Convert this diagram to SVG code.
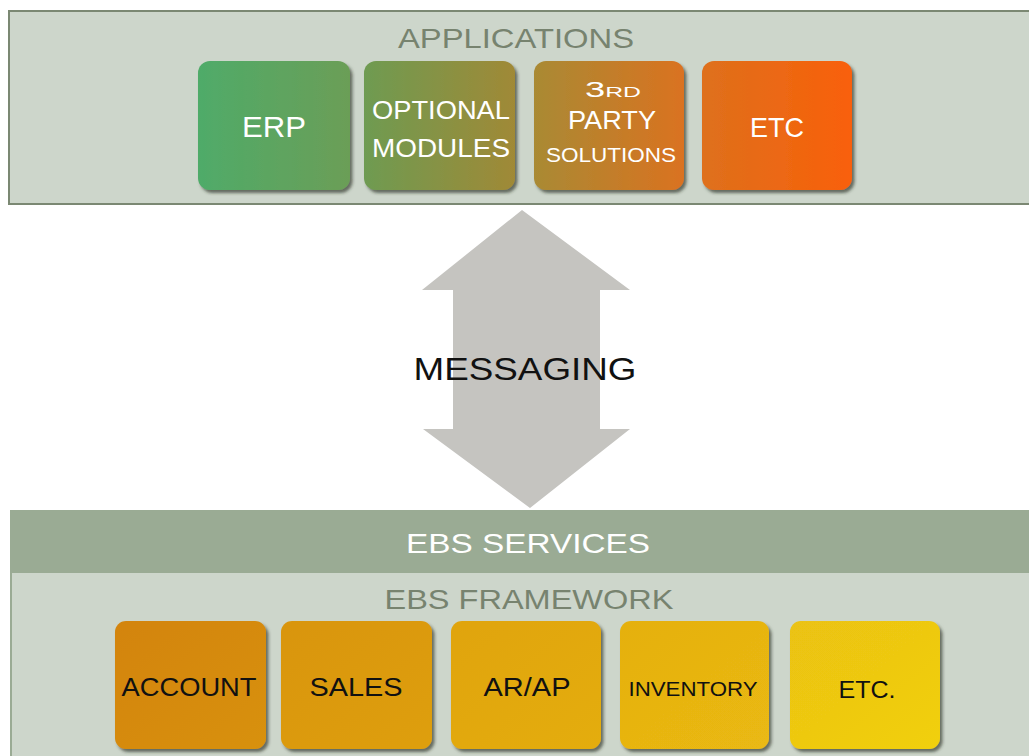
<svg xmlns="http://www.w3.org/2000/svg" width="1029" height="756" viewBox="0 0 1029 756">
<defs>
<style>
text{font-family:"Liberation Sans","DejaVu Sans",sans-serif;text-anchor:middle}
.hdr{font-size:28px;fill:#77836f}
.wt{fill:#ffffff}
.bk{fill:#111111}
.box{filter:url(#sh)}
</style>
<filter id="sh" x="-10%" y="-10%" width="125%" height="125%">
<feDropShadow dx="2.5" dy="3" stdDeviation="1.6" flood-color="#2a2e28" flood-opacity="0.65"/>
</filter>
<linearGradient id="gErp" x1="0" x2="1" y1="0" y2="0"><stop offset="0" stop-color="#4fab69"/><stop offset="1" stop-color="#6b9e57"/></linearGradient>
<linearGradient id="gOpt" x1="0" x2="1" y1="0" y2="0"><stop offset="0" stop-color="#6e9b52"/><stop offset="1" stop-color="#a08936"/></linearGradient>
<linearGradient id="g3rd" x1="0" x2="1" y1="0" y2="0"><stop offset="0" stop-color="#a98a34"/><stop offset="1" stop-color="#da7220"/></linearGradient>
<linearGradient id="gEtc" x1="0" x2="1" y1="0" y2="0"><stop offset="0" stop-color="#de701c"/><stop offset="1" stop-color="#f9600a"/></linearGradient>
<linearGradient id="gAcc" x1="0" x2="1" y1="0" y2="1"><stop offset="0" stop-color="#d3840e"/><stop offset="1" stop-color="#d8910e"/></linearGradient>
<linearGradient id="gSal" x1="0" x2="1" y1="0" y2="1"><stop offset="0" stop-color="#d9950e"/><stop offset="1" stop-color="#de9f0e"/></linearGradient>
<linearGradient id="gAr" x1="0" x2="1" y1="0" y2="1"><stop offset="0" stop-color="#e0a40e"/><stop offset="1" stop-color="#e4ad0e"/></linearGradient>
<linearGradient id="gInv" x1="0" x2="1" y1="0" y2="1"><stop offset="0" stop-color="#e5b010"/><stop offset="1" stop-color="#eab912"/></linearGradient>
<linearGradient id="gEtc2" x1="0" x2="1" y1="0" y2="1"><stop offset="0" stop-color="#ebc212"/><stop offset="1" stop-color="#f1d010"/></linearGradient>
</defs>
<rect width="1029" height="756" fill="#ffffff"/>

<g id="applications">
<rect x="9" y="11" width="1030" height="193" fill="#cdd6cb" stroke="#7b8873" stroke-width="2"/>
<text class="hdr" x="516" y="48" textLength="236" lengthAdjust="spacingAndGlyphs">APPLICATIONS</text>
</g>

<g id="erp">
<rect class="box" x="198" y="61" width="152" height="129" rx="12" fill="url(#gErp)"/>
<text class="wt" x="274" y="137" font-size="30" textLength="64" lengthAdjust="spacingAndGlyphs">ERP</text>
</g>
<g id="optional-modules">
<rect class="box" x="364" y="61" width="151" height="129" rx="12" fill="url(#gOpt)"/>
<text class="wt" x="441" y="119" font-size="26" textLength="138" lengthAdjust="spacingAndGlyphs">OPTIONAL</text>
<text class="wt" x="441" y="157" font-size="26" textLength="138" lengthAdjust="spacingAndGlyphs">MODULES</text>
</g>
<g id="third-party">
<rect class="box" x="534" y="61" width="150" height="129" rx="12" fill="url(#g3rd)"/>
<text class="wt" x="613" y="97" font-size="22" textLength="56" lengthAdjust="spacingAndGlyphs">3<tspan font-size="15">RD</tspan></text>
<text class="wt" x="612" y="129" font-size="26" textLength="88" lengthAdjust="spacingAndGlyphs">PARTY</text>
<text class="wt" x="611" y="162" font-size="21" textLength="130" lengthAdjust="spacingAndGlyphs">SOLUTIONS</text>
</g>
<g id="etc-app">
<rect class="box" x="702" y="61" width="150" height="129" rx="12" fill="url(#gEtc)"/>
<text class="wt" x="777" y="137" font-size="28" textLength="54" lengthAdjust="spacingAndGlyphs">ETC</text>
</g>

<g id="connectors">
<polygon points="522,210 630,290 600,290 600,429 630,429 530,508 423,429 453,429 453,290 422,290" fill="#c5c4c0"/>
</g>
<g id="messaging">
<text class="bk" x="525" y="380" font-size="32" textLength="223" lengthAdjust="spacingAndGlyphs">MESSAGING</text>
</g>

<g id="ebs-services">
<rect x="10" y="510" width="1030" height="63" fill="#9aab94"/>
<text class="wt" x="528" y="553" font-size="28" textLength="244" lengthAdjust="spacingAndGlyphs">EBS SERVICES</text>
</g>
<g id="ebs-framework">
<rect x="10" y="573" width="1030" height="190" fill="#cdd6cb"/>
<line x1="11" y1="573" x2="11" y2="756" stroke="#9aab94" stroke-width="2"/>
<text class="hdr" x="529" y="609" textLength="289" lengthAdjust="spacingAndGlyphs">EBS FRAMEWORK</text>
</g>

<g id="account">
<rect class="box" x="115" y="621" width="151" height="128" rx="11" fill="url(#gAcc)"/>
<text class="bk" x="189" y="696" font-size="25" textLength="135" lengthAdjust="spacingAndGlyphs">ACCOUNT</text>
</g>
<g id="sales">
<rect class="box" x="281" y="621" width="151" height="128" rx="11" fill="url(#gSal)"/>
<text class="bk" x="356" y="696" font-size="25" textLength="93" lengthAdjust="spacingAndGlyphs">SALES</text>
</g>
<g id="arap">
<rect class="box" x="451" y="621" width="150" height="128" rx="11" fill="url(#gAr)"/>
<text class="bk" x="527" y="696" font-size="25" textLength="87" lengthAdjust="spacingAndGlyphs">AR/AP</text>
</g>
<g id="inventory">
<rect class="box" x="620" y="621" width="149" height="128" rx="11" fill="url(#gInv)"/>
<text class="bk" x="693" y="696" font-size="21" textLength="129" lengthAdjust="spacingAndGlyphs">INVENTORY</text>
</g>
<g id="etc-fw">
<rect class="box" x="790" y="621" width="150" height="128" rx="11" fill="url(#gEtc2)"/>
<text class="bk" x="867" y="698" font-size="24" textLength="57" lengthAdjust="spacingAndGlyphs">ETC.</text>
</g>
</svg>
